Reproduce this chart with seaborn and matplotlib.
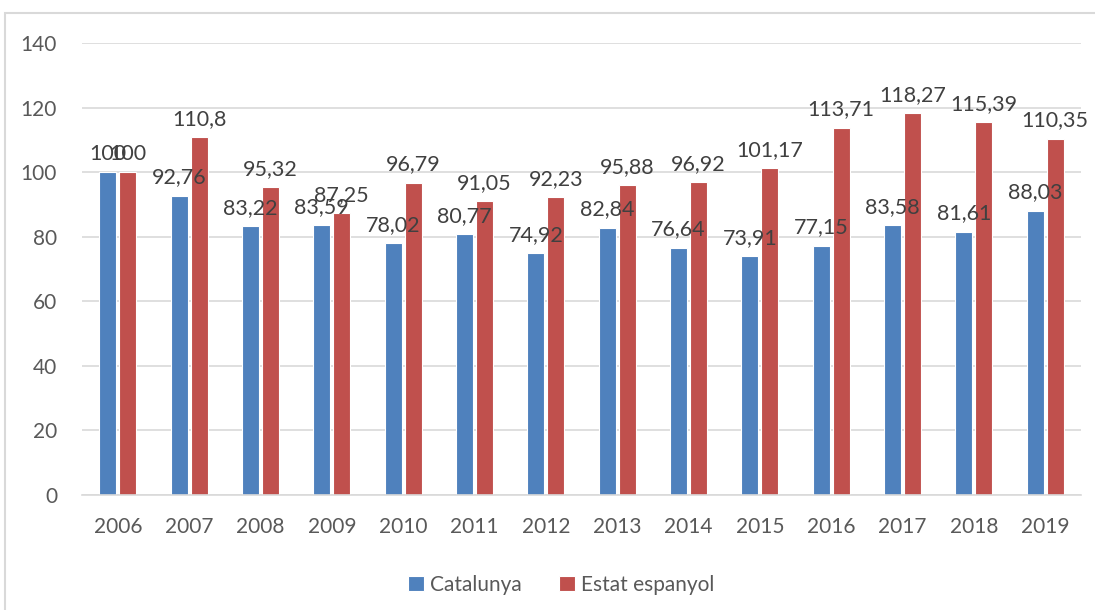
import numpy as np
import pandas as pd
import matplotlib
matplotlib.use("Agg")
import matplotlib.pyplot as plt
import seaborn as sns
from matplotlib.patches import Rectangle

years = [str(y) for y in range(2006, 2020)]
catalunya = [100, 92.76, 83.22, 83.59, 78.02, 80.77, 74.92, 82.84, 76.64, 73.91,
             77.15, 83.58, 81.61, 88.03]
estat = [100, 110.8, 95.32, 87.25, 96.79, 91.05, 92.23, 95.88, 96.92, 101.17,
         113.71, 118.27, 115.39, 110.35]
series_names = ["Catalunya", "Estat espanyol"]
colors = ["#4F81BD", "#C0504D"]

df = pd.DataFrame({
    "year": years * 2,
    "value": catalunya + estat,
    "series": [series_names[0]] * len(years) + [series_names[1]] * len(years),
})

sns.set_style("white")
plt.rcParams["font.family"] = ["Lato", "DejaVu Sans"]
text_color = "#595959"

fig = plt.figure(figsize=(10.95, 6.1), dpi=100)
ax = fig.add_axes([0.075, 0.1885, 0.912, 0.741])

sns.barplot(data=df, x="year", y="value", hue="series", palette=colors,
            width=0.56, gap=0.15, edgecolor="white", linewidth=0.8,
            saturation=1, ax=ax)

# value labels above each bar, decimal comma
for cont in ax.containers:
    labels = [f"{v:g}".replace(".", ",") for v in cont.datavalues]
    ax.bar_label(cont, labels=labels, padding=6, fontsize=15.5, color="#404040")

ax.set_ylim(0, 140)
ax.set_yticks(np.arange(0, 141, 20))
ax.yaxis.grid(True, color="#D9D9D9", linewidth=1.2)
ax.set_axisbelow(True)
for s in ["top", "right", "left"]:
    ax.spines[s].set_visible(False)
ax.spines["bottom"].set_color("#D9D9D9")
ax.spines["bottom"].set_linewidth(1.2)
ax.tick_params(axis="both", length=0, labelsize=15, labelcolor=text_color)
ax.tick_params(axis="y", pad=18)
ax.tick_params(axis="x", pad=16)
ax.set_xlabel("")
ax.set_ylabel("")

ax.legend(loc="upper center", bbox_to_anchor=(0.48, -0.135), ncol=2, frameon=False,
          fontsize=15, labelcolor=text_color, handlelength=0.75, handleheight=0.75,
          columnspacing=1.8, handletextpad=0.3)

# light frame around the chart
fig.patches.append(Rectangle((5 / 1095, -0.1), 1.2, 1 - 13 / 610 + 0.1,
                             transform=fig.transFigure, fill=False,
                             edgecolor="#D9D9D9", linewidth=1.5))

fig.savefig("out.png", dpi=100)
